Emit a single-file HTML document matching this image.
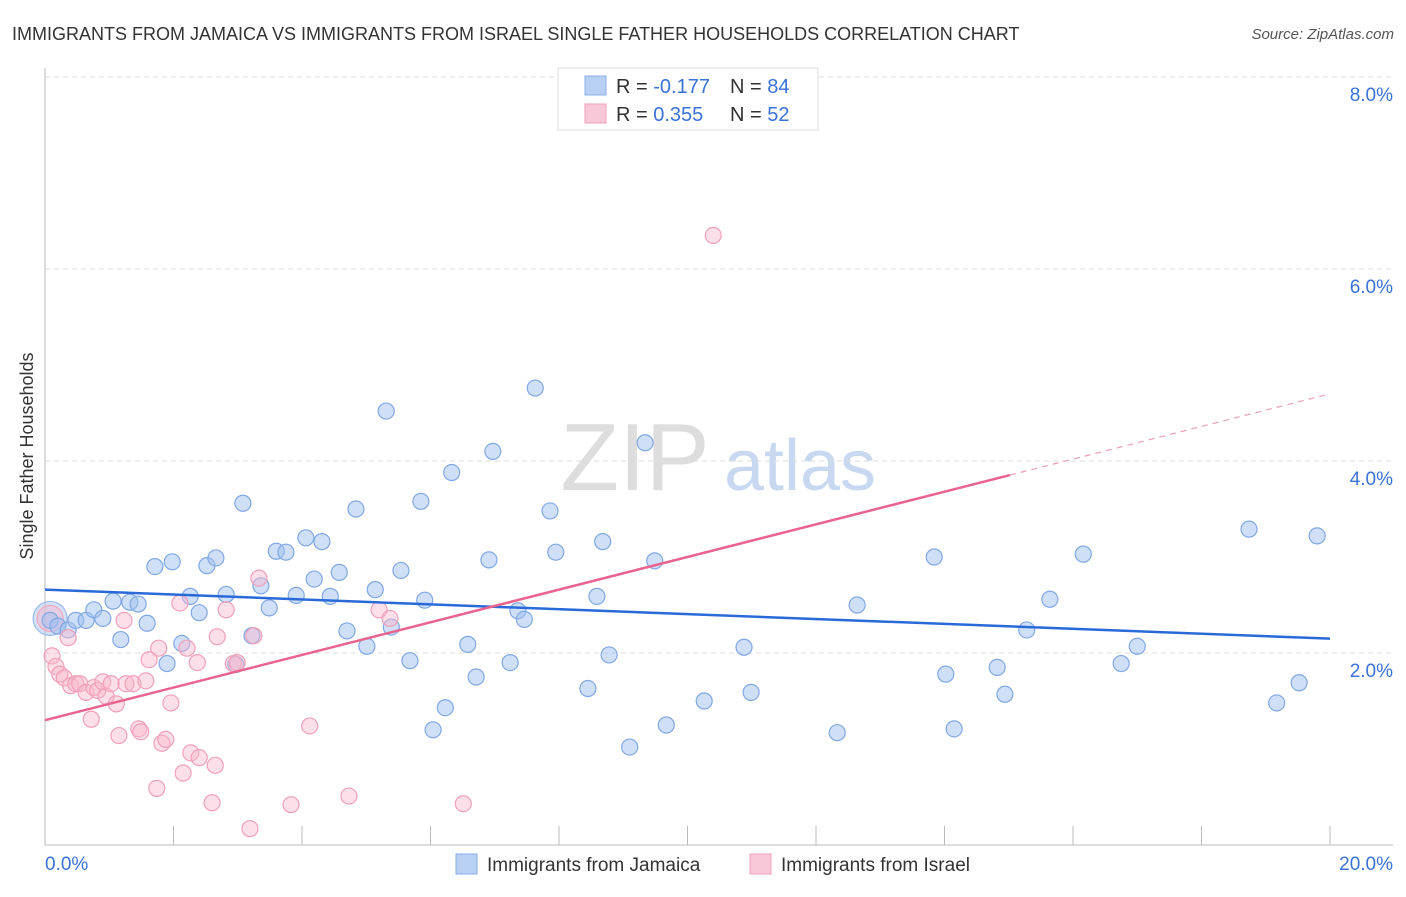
<!DOCTYPE html>
<html><head><meta charset="utf-8"><style>
body{margin:0;background:#fff;font-family:"Liberation Sans",sans-serif;}
svg text{font-family:"Liberation Sans",sans-serif;}
</style></head><body>
<svg id="chart" width="1406" height="892" xmlns="http://www.w3.org/2000/svg">
<text x="12" y="40" font-size="18" fill="#333">IMMIGRANTS FROM JAMAICA VS IMMIGRANTS FROM ISRAEL SINGLE FATHER HOUSEHOLDS CORRELATION CHART</text>
<text x="1394" y="39" font-size="15" fill="#555" text-anchor="end" font-style="italic">Source: ZipAtlas.com</text>
<g>
<text x="635" y="490" font-size="96" fill="#ddd" text-anchor="middle" font-family="Liberation Serif, serif">ZIP</text>
<text x="800" y="490" font-size="72" fill="#c8d8f0" text-anchor="middle">atlas</text>
</g>
<g id="grid"></g>
<g id="axes"></g>
<g id="marks"></g>
<text transform="translate(33,456) rotate(-90)" font-size="18" fill="#333" text-anchor="middle">Single Father Households</text>
<g>
<rect x="558" y="68" width="260" height="62" fill="#fff" stroke="#ddd"/>
<rect x="585" y="76" width="21" height="19" fill="#b8d0f4" stroke="#8ab0e8"/>
<rect x="585" y="104" width="21" height="19" fill="#f8c8d8" stroke="#f0a0b8"/>
<text x="616" y="93" font-size="20" fill="#333">R = <tspan fill="#3a72d8">-0.177</tspan></text>
<text x="730" y="93" font-size="20" fill="#333">N = <tspan fill="#3a72d8">84</tspan></text>
<text x="616" y="121" font-size="20" fill="#333">R = <tspan fill="#3a72d8"> 0.355</tspan></text>
<text x="730" y="121" font-size="20" fill="#333">N = <tspan fill="#3a72d8">52</tspan></text>
</g>
<g>
<rect x="456" y="854" width="21" height="20" fill="#b8d0f4" stroke="#8ab0e8"/>
<text x="487" y="871" font-size="19" fill="#333">Immigrants from Jamaica</text>
<rect x="750" y="854" width="21" height="20" fill="#f8c8d8" stroke="#f0a0b8"/>
<text x="781" y="871" font-size="19" fill="#333">Immigrants from Israel</text>
</g>
</svg>
<script>
const xTicks=[0,2,4,6,8,10,12,14,16,18,20];
const yTicks=[2,4,6,8];
const yTickLabels=["2.0%","4.0%","6.0%","8.0%"];
const xEndLabels=["0.0%","20.0%"];
const jamaicaX=[0.08,0.20,0.36,0.48,0.64,0.76,0.90,1.06,1.18,1.32,1.45,1.59,1.71,1.90,1.98,2.13,2.26,2.40,2.52,2.66,2.82,2.97,3.08,3.22,3.36,3.49,3.60,3.75,3.91,4.06,4.19,4.31,4.44,4.58,4.70,4.84,5.01,5.14,5.31,5.39,5.54,5.68,5.85,5.91,6.04,6.23,6.33,6.58,6.71,6.91,6.97,7.24,7.36,7.46,7.63,7.86,7.95,8.45,8.59,8.68,8.78,9.10,9.34,9.49,9.67,10.26,10.88,10.99,12.33,12.64,13.84,14.02,14.15,14.82,14.94,15.28,15.64,16.16,16.75,17.00,18.74,19.17,19.52,19.80];
const jamaicaY=[2.34,2.28,2.24,2.34,2.34,2.45,2.36,2.54,2.14,2.53,2.51,2.31,2.90,1.89,2.95,2.10,2.59,2.42,2.91,2.99,2.61,1.88,3.56,2.18,2.70,2.47,3.06,3.05,2.60,3.20,2.77,3.16,2.59,2.84,2.23,3.50,2.07,2.66,4.52,2.27,2.86,1.92,3.58,2.55,1.20,1.43,3.88,2.09,1.75,2.97,4.10,1.90,2.44,2.35,4.76,3.48,3.05,1.63,2.59,3.16,1.98,1.02,4.19,2.96,1.25,1.50,2.06,1.59,1.17,2.50,3.00,1.78,1.21,1.85,1.57,2.24,2.56,3.03,1.89,2.07,3.29,1.48,1.69,3.22];
const israelX=[0.11,0.17,0.23,0.30,0.36,0.40,0.48,0.54,0.64,0.72,0.76,0.82,0.90,0.95,1.03,1.11,1.15,1.23,1.26,1.37,1.46,1.49,1.57,1.62,1.74,1.77,1.82,1.88,1.96,2.10,2.15,2.21,2.27,2.37,2.40,2.60,2.65,2.68,2.82,2.93,2.99,3.19,3.25,3.33,3.83,4.12,4.73,5.20,5.37,6.51,10.40];
const israelY=[1.97,1.86,1.78,1.74,2.16,1.66,1.68,1.68,1.59,1.31,1.64,1.61,1.70,1.55,1.68,1.47,1.14,2.34,1.68,1.68,1.21,1.18,1.71,1.93,0.59,2.05,1.06,1.10,1.48,2.52,0.75,2.05,0.96,1.90,0.91,0.44,0.83,2.17,2.45,1.89,1.90,0.17,2.18,2.78,0.42,1.24,0.51,2.45,2.36,0.43,6.35];
const bigX=[0.08,0.08], bigY=[2.36,2.36];
const jamaicaTrend=[2.66,2.15];
const israelTrend=[1.30,4.70];
const israelSolidEnd=15.02;

const NS="http://www.w3.org/2000/svg";
const X=v=>45+v/20*1285, Y=v=>845-v*96;
function mk(tag,attrs,parent){const e=document.createElementNS(NS,tag);for(const k in attrs)e.setAttribute(k,attrs[k]);parent.appendChild(e);return e;}
const grid=document.getElementById('grid'),axes=document.getElementById('axes'),marks=document.getElementById('marks');
yTicks.forEach((t,i)=>{
 const l=mk('line',{x1:45,x2:1393,y1:Y(t),y2:Y(t),stroke:'#ddd','stroke-dasharray':'5,4'},grid);
 
 
 const tx=mk('text',{x:1393,y:Y(t)+24,'font-size':19,fill:'#3a72d8','text-anchor':'end'},axes);
 tx.textContent=yTickLabels[i];
 
 
});
const tl=mk('line',{x1:45,x2:1393,y1:Y(8)+0,y2:Y(8),stroke:'#ddd','stroke-dasharray':'5,4'},grid);
mk('line',{x1:45,x2:45,y1:68,y2:845,stroke:'#bbb'},axes);
const xa=mk('line',{x1:45,x2:1393,y1:845,y2:845,stroke:'#bbb'},axes);


xTicks.forEach(t=>{
 const l=mk('line',{x1:X(t),x2:X(t),y1:826,y2:845,stroke:'#bbb'},axes);
 
 
});
const x0=mk('text',{x:45,y:870,'font-size':19,fill:'#3a72d8'},axes);x0.textContent=xEndLabels[0];


const x1=mk('text',{x:1393,y:870,'font-size':19,fill:'#3a72d8','text-anchor':'end'},axes);x1.textContent=xEndLabels[1];


function dot(x,y,r,fill,stroke,name){const c=mk('circle',{cx:X(x),cy:Y(y),r:r,fill:fill,stroke:stroke,'stroke-width':1.2},marks);
 
 }
dot(bigX[0],bigY[0],17,'rgba(160,190,240,0.45)','#9cbcec','big-point-jamaica');
dot(bigX[1],bigY[1],13,'rgba(248,180,200,0.45)','#f0a8c0','big-point-israel');
jamaicaX.forEach((x,i)=>dot(x,jamaicaY[i],8,'rgba(160,192,240,0.5)','#80a8e4','point-jamaica'));
israelX.forEach((x,i)=>dot(x,israelY[i],8,'rgba(248,185,205,0.45)','#f0a0b8','point-israel'));
const jt=mk('line',{x1:X(0),y1:Y(jamaicaTrend[0]),x2:X(20),y2:Y(jamaicaTrend[1]),stroke:'#2a6ad8','stroke-width':2.5},marks);


const iy=v=>israelTrend[0]+(israelTrend[1]-israelTrend[0])*v/20;
const it=mk('line',{x1:X(0),y1:Y(iy(0)),x2:X(israelSolidEnd),y2:Y(iy(israelSolidEnd)),stroke:'#e8648e','stroke-width':2.5},marks);


const itd=mk('line',{x1:X(israelSolidEnd),y1:Y(iy(israelSolidEnd)),x2:X(20),y2:Y(iy(20)),stroke:'#e8a0b8','stroke-width':1.2,'stroke-dasharray':'6,5'},marks);


</script>
</body></html>
